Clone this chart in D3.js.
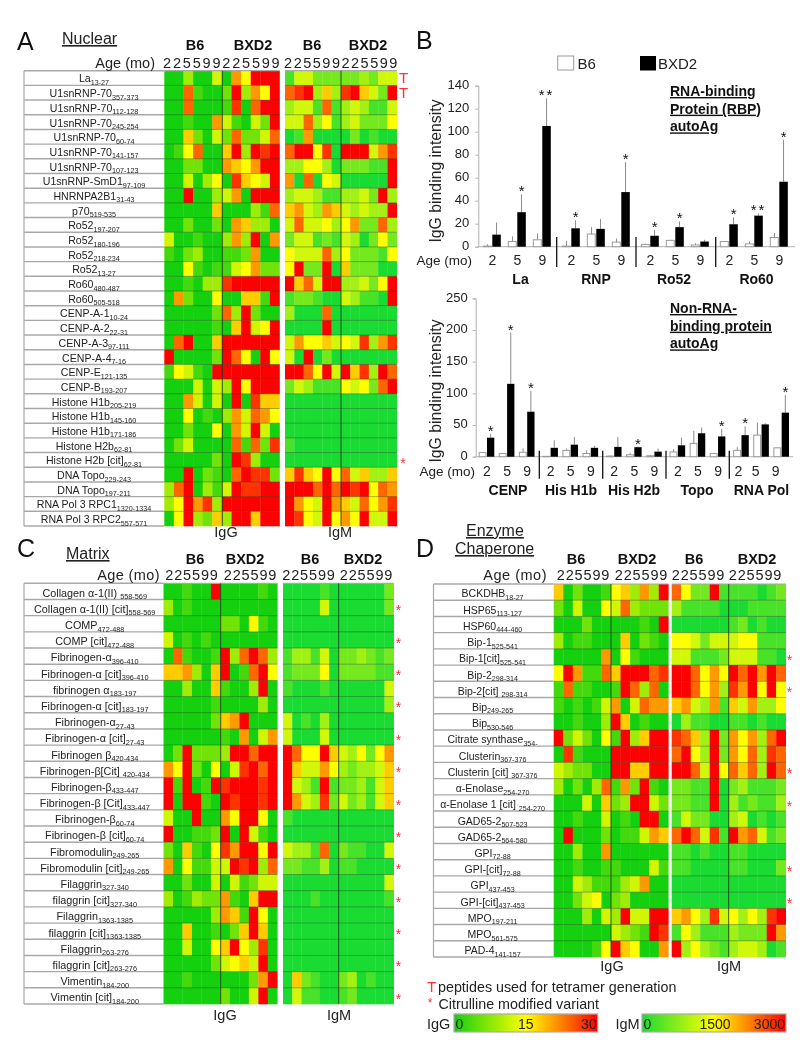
<!DOCTYPE html>
<html><head><meta charset="utf-8">
<script src="https://cdn.jsdelivr.net/npm/d3@7/dist/d3.min.js"></script>
<style>
html,body{margin:0;padding:0;background:#fff}
svg{display:block;font-family:"Liberation Sans",Arial,sans-serif;filter:blur(0.45px)}
</style></head><body><svg id="c" width="811" height="1050"></svg>
<script>
// ---------- Data: heat levels are 0..10 (IgG level x3, IgM level x300) ----------
const ages = [2,2,5,5,9,9,2,2,5,5,9,9];
const nuclearLabels = ["La|13-27","U1snRNP-70|357-373","U1snRNP-70|112-128","U1snRNP-70|245-254","U1snRNP-70|60-74","U1snRNP-70|141-157","U1snRNP-70|107-123","U1snRNP-SmD1|97-109","HNRNPA2B1|31-43","p70|519-535","Ro52|197-207","Ro52|180-196","Ro52|218-234","Ro52|13-27","Ro60|480-487","Ro60|505-518","CENP-A-1|10-24","CENP-A-2|22-31","CENP-A-3|97-111","CENP-A-4|7-16","CENP-E|121-135","CENP-B|193-207","Histone H1b|205-219","Histone H1b|145-160","Histone H1b|171-186","Histone H2b|62-81","Histone H2b [cit]|62-81","DNA Topo|229-243","DNA Topo|197-211","RNA Pol 3 RPC1|1320-1334","RNA Pol 3 RPC2|557-571"];
const nuclearIgG = [
[0,0,3,0,0,4,0,7,5,10,10,10],[0,0,8,1,0,0,2,10,3,7,5,10],[0,0,8,0,0,0,1,9,0,8,10,10],[0,0,1,0,0,7,4,1,0,4,2,10],
[0,0,6,2,0,4,2,8,2,2,4,8],[0,1,5,8,0,0,6,10,3,10,9,10],[0,0,2,2,0,0,7,6,5,7,10,10],[0,0,4,0,3,5,0,9,6,5,4,10],
[0,0,10,0,0,3,4,7,0,10,10,10],[0,0,0,0,0,6,0,0,0,3,1,8],[0,0,2,0,0,2,0,7,6,3,3,0],[4,0,0,1,0,0,3,7,3,10,0,7],
[1,0,2,3,0,0,1,1,2,7,0,0],[0,0,5,1,0,1,1,4,5,7,2,2],[0,0,1,0,3,3,9,10,10,10,10,10],[0,7,2,0,0,5,0,0,6,6,1,10],
[0,0,0,0,0,2,8,3,10,2,0,0],[0,0,0,0,0,1,0,6,10,4,5,10],[0,8,10,0,0,6,10,10,10,10,10,10],[10,0,0,0,0,2,10,8,5,0,10,5],
[1,5,4,1,0,10,10,10,10,10,10,10],[0,0,0,4,0,4,3,10,5,10,10,10],[0,0,7,4,0,4,0,10,0,9,6,6],[0,0,5,0,1,0,3,7,4,8,7,5],
[0,0,2,0,0,5,0,7,4,10,4,0],[0,2,4,0,0,0,0,8,1,8,2,9],[0,0,0,0,0,2,0,10,9,3,0,0],[0,0,10,0,2,1,0,8,10,9,9,2],
[3,8,10,0,3,1,4,10,9,9,10,10],[3,5,10,7,9,3,10,10,10,10,10,10],[0,5,10,3,2,6,3,10,10,6,10,10]];
const nuclearIgM = [
[1,4,4,2,2,2,2,2,3,2,4,4],[8,9,10,3,6,3,9,10,6,4,2,10],[3,4,4,1,8,1,3,4,3,1,1,4],[4,4,8,3,5,1,3,4,2,2,2,5],
[0,1,7,0,0,0,0,2,0,1,0,0],[8,10,10,5,9,0,10,10,10,4,7,9],[3,3,5,5,3,0,2,2,2,1,1,10],[7,0,8,0,5,4,0,0,0,0,0,10],
[3,4,4,3,1,1,3,3,4,2,10,3],[6,7,4,3,7,6,4,3,4,3,3,10],[4,8,4,4,5,3,5,7,2,2,8,3],[2,4,4,1,2,1,4,3,0,2,5,2],
[5,4,4,4,8,3,5,2,2,2,1,5],[5,10,2,2,10,0,6,2,2,2,0,0],[10,6,8,4,10,10,3,3,4,2,5,10],[1,2,2,1,0,0,4,3,1,1,0,10],
[3,0,0,0,8,0,0,0,0,0,0,0],[0,0,0,0,10,0,0,0,0,0,0,0],[4,7,5,5,6,4,5,4,9,3,7,9],[4,0,10,0,2,0,0,0,0,0,0,0],
[10,10,8,5,10,4,10,6,9,3,10,8],[2,4,3,1,1,1,5,4,5,2,8,10],[0,0,0,0,0,0,0,0,0,0,0,0],[0,0,0,0,0,0,0,0,0,0,0,0],
[0,0,0,0,0,0,0,0,0,0,0,0],[1,0,0,0,0,0,0,0,0,0,0,0],[0,0,0,0,0,0,0,0,0,0,0,0],[6,9,6,5,10,5,8,4,6,3,3,6],
[10,10,10,8,10,8,10,9,10,5,8,7],[10,7,5,4,10,7,6,4,8,5,7,9],[10,9,5,4,10,5,7,5,10,4,4,10]];

const matrixLabels = ["Collagen α-1(II) |558-569","Collagen α-1(II) [cit]|558-569","COMP|472-488","COMP [cit]|472-488","Fibrinogen-α|396-410","Fibrinogen-α [cit]|396-410","fibrinogen α|183-197","Fibrinogen-α [cit]|183-197","Fibrinogen-α|27-43","Fibrinogen-α [cit]|27-43","Fibrinogen β|420-434","Fibrinogen-β[Cit] |420-434","Fibrinogen-β|433-447","Fibrinogen-β [Cit]|433-447","Fibrinogen-β|60-74","Fibrinogen-β [cit]|60-74","Fibromodulin|249-265","Fibromodulin [cit]|249-265","Filaggrin|327-340","filaggrin [cit]|327-340","Filaggrin|1363-1385","filaggrin [cit]|1363-1385","Filaggrin|263-276","filaggrin [cit]|263-276","Vimentin|184-200","Vimentin [cit]|184-200"];
const matrixIgG = [
[0,0,1,0,0,10,0,0,0,0,1,0],[3,0,1,0,0,0,0,0,0,0,0,0],[0,0,0,0,0,0,2,2,0,5,1,0],[4,0,1,0,1,0,0,0,0,0,0,0],
[0,8,1,0,0,1,10,3,8,10,8,3],[6,6,7,3,0,6,10,0,1,8,10,5],[0,0,3,0,0,6,1,0,0,3,10,0],[0,0,0,0,0,1,0,0,0,0,3,0],
[0,0,0,0,0,2,6,7,10,0,0,0],[0,0,0,0,0,0,1,0,7,0,4,7],[0,2,10,2,2,2,3,10,10,8,10,10],[7,5,10,2,0,5,0,4,9,10,8,10],
[10,1,10,0,1,10,9,10,10,10,9,10],[10,0,10,10,1,0,10,9,10,10,9,10],[4,0,0,10,0,0,7,5,10,10,5,0],[10,0,0,1,1,2,10,0,10,4,1,0],
[2,0,6,1,0,5,9,7,10,10,5,10],[7,0,5,1,1,4,4,10,9,10,3,8],[0,0,2,0,0,4,0,4,1,2,4,4],[3,0,1,3,2,2,7,1,0,6,10,10],
[0,0,0,0,0,3,7,6,1,10,5,0],[0,0,6,0,0,1,0,2,6,10,6,0],[0,0,4,0,0,5,6,10,5,3,9,0],[0,0,0,0,0,2,4,5,6,4,10,0],
[0,0,1,0,0,0,0,0,0,2,7,10],[0,0,0,0,0,0,2,0,0,4,10,0]];
const matrixIgM = [
[0,0,0,0,1,0,0,0,0,0,0,2],[0,0,0,0,4,0,0,0,0,0,0,2],[0,0,0,0,0,0,0,0,0,0,0,0],[0,0,0,0,0,0,0,0,0,0,0,0],
[1,3,3,1,4,0,2,2,3,2,1,2],[1,2,2,2,5,0,2,2,2,2,1,1],[1,0,0,0,1,0,0,0,0,0,0,4],[0,0,0,0,0,0,0,0,0,0,0,3],
[4,0,1,0,3,0,0,0,0,0,0,0],[4,0,0,0,4,0,0,0,0,0,0,0],[10,8,5,5,10,6,4,3,5,2,5,7],[10,6,4,4,7,5,3,2,3,3,4,6],
[10,4,3,1,10,1,2,2,3,1,4,6],[10,7,4,3,9,2,4,2,3,1,4,6],[1,0,0,0,0,0,0,0,0,0,0,0],[0,0,0,0,0,0,0,0,0,0,0,0],
[4,3,3,1,8,0,2,1,1,0,0,4],[2,2,1,1,3,0,1,1,0,0,0,0],[0,0,0,0,0,0,0,0,0,0,0,4],[0,0,0,1,0,0,0,0,0,0,0,1],
[0,0,0,0,0,0,0,0,0,0,0,0],[0,0,0,0,0,0,0,0,0,0,0,0],[0,0,0,0,0,0,0,0,0,0,0,0],[0,0,0,0,0,0,0,0,0,0,0,0],
[0,6,2,1,0,0,2,3,0,1,0,0],[0,4,1,1,0,0,1,2,0,0,0,0]];

const enzymeLabels = ["BCKDHB|18-27","HSP65|113-127","HSP60|444-460","Bip-1|525-541","Bip-1[cit]|525-541","Bip-2|298-314","Bip-2[cit] |298-314","Bip|249-265","Bip|530-546","Citrate synthase|354-","Clusterin|367-376","Clusterin [cit] |367-376","α-Enolase|254-270","α-Enolase 1 [cit] |254-270","GAD65-2|507-523","GAD65-2|564-580","GPI|72-88","GPI-[cit]|72-88","GPI|437-453","GPI-[cit]|437-453","MPO|197-211","MPO|561-575","PAD-4|141-157"];
const enzymeIgG = [
[6,0,2,0,0,1,5,6,3,7,3,10],[2,0,4,0,0,5,4,8,3,2,2,2],[0,0,0,2,0,0,0,0,0,1,0,10],[3,0,1,1,0,0,0,6,0,2,1,0],
[0,0,0,0,0,7,0,5,1,0,0,0],[5,10,7,1,1,8,6,10,10,10,8,9],[1,8,1,1,0,0,1,10,8,3,8,0],[1,0,1,0,1,4,7,0,4,8,7,7],
[0,0,1,0,0,3,10,6,0,1,0,0],[10,2,4,2,0,5,1,10,3,6,10,10],[0,9,1,0,0,0,10,10,10,10,10,10],[4,3,2,2,0,0,10,10,6,6,10,10],
[3,0,2,0,3,8,1,7,2,10,1,0],[0,0,0,4,0,6,2,3,10,10,4,2],[0,0,1,0,0,4,0,1,0,10,10,0],[0,10,0,0,0,2,0,1,1,4,7,6],
[0,0,3,0,0,7,0,0,0,0,0,0],[0,0,1,0,0,1,1,0,0,0,4,1],[0,0,4,3,1,1,1,3,4,7,0,0],[0,0,2,4,5,0,2,3,0,0,0,0],
[0,0,0,3,0,4,3,10,4,4,10,10],[0,0,0,0,0,0,4,3,2,1,10,9],[0,0,0,0,1,5,10,6,5,0,0,7]];
const enzymeIgM = [
[8,5,2,2,10,1,1,1,1,0,1,2],[3,1,1,1,1,0,0,0,1,1,1,1],[0,0,0,0,0,0,1,2,0,1,0,0],[5,5,4,2,4,4,4,5,5,1,1,1],
[4,4,1,1,1,2,4,4,4,1,1,0],[10,10,8,5,7,5,10,8,10,7,10,8],[10,10,8,5,7,3,9,7,10,5,10,5],[6,7,4,3,7,1,6,4,7,3,3,5],
[0,3,1,1,0,0,1,1,0,1,0,0],[9,8,6,3,10,2,7,5,7,3,8,10],[8,10,5,3,10,2,7,5,8,3,9,8],[10,10,8,4,10,5,8,6,8,3,10,8],
[2,2,1,1,10,0,2,3,1,1,1,2],[2,2,1,1,10,0,3,1,2,1,1,3],[1,4,2,2,0,0,3,4,0,1,0,1],[8,10,8,4,9,1,10,7,8,4,1,2],
[1,1,0,1,0,0,1,1,0,0,0,0],[1,1,0,0,0,0,1,1,0,0,0,2],[0,0,0,0,0,0,0,0,0,0,0,0],[0,0,0,0,0,0,0,0,0,0,0,0],
[6,7,5,3,9,4,5,3,5,3,9,10],[1,5,3,1,1,1,3,2,2,2,10,7],[10,3,5,3,2,1,3,4,4,3,0,1]];

// Bar charts
const ageTicks = [2,5,9];
const rbpGroups = ["La","RNP","Ro52","Ro60"];
const rbpB6 = [0.5,4.5,6, 0.5,11,4, 2,5.5,1.5, 4.5,2.5,8];
const rbpB6Top = [2,9,11.5, 5,17,7, 2.5,6,3, 5,4.5,12];
const rbpBXD2 = [10.5,30,105, 16,15.5,47.5, 9.5,17,4.5, 19.5,27,56.5];
const rbpBXD2Top = [21,45.5,129, 23,24,73.5, 14.5,22,6, 25.5,29,93];
const rbpSig = ["","*","**","*","","*","*","*","","*","**","*"];
const nonGroups = ["CENP","His H1b","His H2b","Topo","RNA Pol"];
const nonB6 = [6.5,5,7, 0.5,10,5, 1,3,1.5, 7.5,21,5, 10,34,14];
const nonB6Top = [7,6,13, 1,13,10, 2,6,3, 12,41,6, 15,54,15];
const nonBXD2 = [30,115,71, 14,19,14, 15.5,15,8, 18,37,32, 34,51,69.5];
const nonBXD2Top = [36,196,104, 26,31,17, 31,16,13, 30,46,44, 48,53,97];
const nonSig = ["*","*","*","","","","","*","","","","*","*","","*"];
const igGLegend = ["0","15","30"];
const igMLegend = ["0","1500","3000"];

// ---------- Helpers ----------
const svg = d3.select("#c");
const TXT = "#222";
const colIgG = d3.scaleLinear().domain([0,5,10]).range(["rgb(20,208,15)","#ffff00","#ff0000"]);
const colIgM = d3.scaleLinear().domain([0,5,10]).range(["rgb(26,219,50)","#ffff00","#ff0000"]);

function text(x,y,s,o={}){
  const t = svg.append("text").attr("x",x).attr("y",y).text(s)
    .attr("font-size",o.size||14).attr("fill",o.fill||TXT);
  if(o.anchor) t.attr("text-anchor",o.anchor);
  if(o.weight) t.attr("font-weight",o.weight);
  if(o.spacing) t.attr("letter-spacing",o.spacing);
  if(o.under) t.attr("text-decoration","underline");
  if(o.transform) t.attr("transform",o.transform);
  return t;
}

function heatPanel(p){
  const y = d3.scaleBand().domain(d3.range(p.labels.length)).range([p.top,p.bottom]);
  const g = svg.append("g");
  // label box
  g.selectAll("line.row").data(d3.range(p.labels.length+1)).join("line")
    .attr("x1",p.boxL).attr("x2",p.boxR)
    .attr("y1",i=>i<p.labels.length?y(i):p.bottom).attr("y2",i=>i<p.labels.length?y(i):p.bottom)
    .attr("stroke","#a8a8a8").attr("stroke-width",1.4);
  g.append("line").attr("x1",p.boxL).attr("x2",p.boxL).attr("y1",p.top).attr("y2",p.bottom)
    .attr("stroke","#a8a8a8").attr("stroke-width",1.2);
  const lab = g.selectAll("text.lab").data(p.labels).join("text")
    .attr("x",(p.boxL+p.boxR)/2+p.labDx).attr("y",(d,i)=>y(i)+y.bandwidth()*p.labY)
    .attr("text-anchor","middle").attr("font-size",p.labSize).attr("fill",TXT);
  lab.append("tspan").text(d=>d.split("|")[0]);
  lab.append("tspan").text(d=>d.split("|")[1]).attr("font-size",p.labSize*0.68).attr("dy",2.5);
  // cells
  [[p.igG,p.xG,colIgG,p.divG],[p.igM,p.xM,colIgM,p.divM]].forEach(([vals,ext,col,div])=>{
    const x = d3.scaleBand().domain(d3.range(12)).range(ext);
    const hg = svg.append("g");
    hg.selectAll("g").data(vals).join("g").attr("transform",(d,i)=>`translate(0,${y(i)})`)
      .selectAll("rect").data(d=>d).join("rect")
      .attr("x",(d,j)=>x(j)).attr("width",x.bandwidth()+0.3).attr("height",y.bandwidth()+0.3)
      .attr("fill",d=>col(d));
    hg.selectAll("line").data(d3.range(1,p.labels.length)).join("line")
      .attr("x1",ext[0]).attr("x2",ext[1]).attr("y1",i=>y(i)).attr("y2",i=>y(i))
      .attr("stroke","#1c3a1c").attr("stroke-opacity",0.38).attr("stroke-width",1);
    hg.append("line").attr("x1",ext[0]).attr("x2",ext[1]).attr("y1",p.top).attr("y2",p.top)
      .attr("stroke","#a8a8a8").attr("stroke-width",1.2);
    hg.append("line").attr("x1",div).attr("x2",div).attr("y1",p.top).attr("y2",p.bottom)
      .attr("stroke","#1c3a1c").attr("stroke-opacity",0.85).attr("stroke-width",1);
  });
  // citrulline stars
  svg.append("g").selectAll("text").data(p.labels.map((d,i)=>[d,i]).filter(d=>/\[cit\]/i.test(d[0]))).join("text")
    .attr("x",p.starX).attr("y",d=>y(d[1])+y.bandwidth()*p.starY).attr("text-anchor","middle")
    .attr("font-size",14).attr("fill","#f33").text("*");
  // header
  p.heads.forEach(h=>text(h[0],p.headY,h[1],{size:14.5,weight:"bold",anchor:"middle",fill:"#111"}));
  text(p.ageX,p.ageY,"Age (mo)",{size:14.5,anchor:"end",spacing:p.ageSp||0});
  p.ageBlocks.forEach(b=>{
    const s = b.ages.join("");
    text(b.x,p.ageY,s,{size:14.5,anchor:"middle",spacing:b.sp});
  });
  text(p.footG,p.footY,"IgG",{size:14.5,anchor:"middle"});
  text(p.footM,p.footY,"IgM",{size:14.5,anchor:"middle"});
}

// ---------- Panel A ----------
heatPanel({labels:nuclearLabels,igG:nuclearIgG,igM:nuclearIgM,top:70.7,bottom:526,boxL:24,boxR:164,labDx:0,labY:0.8,labSize:10.6,
  xG:[164.3,279.5],xM:[285,396.8],divG:222.3,divM:341,starX:403,starY:1.02,
  heads:[[195,"B6"],[253,"BXD2"],[312,"B6"],[368,"BXD2"]],headY:50,ageX:155,ageY:68,
  ageBlocks:[{x:222.3,ages,sp:1.8},{x:341.5,ages,sp:1.5}],footG:226,footM:340,footY:537});
// ---------- Panel C ----------
heatPanel({labels:matrixLabels,igG:matrixIgG,igM:matrixIgM,top:583.3,bottom:1004,boxL:24,boxR:163.5,labDx:1,labY:0.83,labSize:10.8,ageSp:0.4,
  xG:[163.5,277.3],xM:[283,393.7],divG:220.7,divM:338.7,starX:398.5,starY:0.98,
  heads:[[195,"B6"],[245,"BXD2"],[310,"B6"],[363,"BXD2"]],headY:564,ageX:160,ageY:580,
  ageBlocks:[{x:192,ages:ages.slice(0,6),sp:0.85},{x:250.5,ages:ages.slice(0,6),sp:0.85},{x:309,ages:ages.slice(0,6),sp:0.85},{x:366.5,ages:ages.slice(0,6),sp:0.85}],
  footG:225,footM:339,footY:1020});
// ---------- Panel D ----------
heatPanel({labels:enzymeLabels,igG:enzymeIgG,igM:enzymeIgM,top:584,bottom:957,boxL:433.5,boxR:553.7,labDx:-1,labY:0.83,labSize:10.5,ageSp:0.5,
  xG:[553.7,668.3],xM:[671.7,785.7],divG:611,divM:728.7,starX:789.5,starY:0.98,
  heads:[[576,"B6"],[637,"BXD2"],[694,"B6"],[757,"BXD2"]],headY:564,ageX:547,ageY:580,
  ageBlocks:[{x:583.5,ages:ages.slice(0,6),sp:0.85},{x:641.5,ages:ages.slice(0,6),sp:0.85},{x:698.5,ages:ages.slice(0,6),sp:0.85},{x:755.5,ages:ages.slice(0,6),sp:0.85}],
  footG:612,footM:729,footY:971});

// Panel letters and titles
[["A",17,50],["B",416,49],["C",17,557],["D",416,557]].forEach(d=>text(d[1],d[2],d[0],{size:25,fill:"#111"}));
text(62,44,"Nuclear",{size:16,under:true});
text(66,559,"Matrix",{size:16,under:true});
text(466,536,"Enzyme",{size:16,under:true});
text(455,554,"Chaperone",{size:16,under:true});
text(399,83,"T",{size:15,fill:"#f33"});
text(399,98,"T",{size:15,fill:"#f33"});

// ---------- Panel B ----------
function barChart(p){
  const y = d3.scaleLinear().domain(p.domain).range([p.y0,p.y1]);
  const x = d3.scaleLinear().domain([0,1]).range([p.x0,p.x0+p.pitch]);
  const slot = i => x(i + Math.floor(i/3)*p.gap);
  const g = svg.append("g");
  const ax = g.append("g").attr("transform",`translate(${p.axisX},0)`)
    .call(d3.axisLeft(y).tickValues(p.ticks).tickSize(3).tickPadding(p.tickPad));
  ax.selectAll("path,line").attr("stroke","#b0b0b0");
  ax.selectAll("text").attr("font-size",13).attr("dy","0.22em").attr("font-family","'Liberation Sans',Arial,sans-serif").attr("fill",TXT);
  g.append("line").attr("x1",p.axisX).attr("x2",p.axisEnd).attr("y1",p.y0).attr("y2",p.y0).attr("stroke","#b0b0b0");
  // whiskers
  const wg = g.append("g").attr("stroke","#8a8a8a").attr("stroke-width",1);
  wg.selectAll("line.a").data(p.b6).join("line").attr("class","a")
    .attr("x1",(d,i)=>slot(i)-p.bw/2-0.5).attr("x2",(d,i)=>slot(i)-p.bw/2-0.5)
    .attr("y1",d=>y(d)).attr("y2",(d,i)=>y(p.b6Top[i]));
  wg.selectAll("line.b").data(p.bxd).join("line").attr("class","b")
    .attr("x1",(d,i)=>slot(i)+p.bw/2).attr("x2",(d,i)=>slot(i)+p.bw/2)
    .attr("y1",d=>y(d)).attr("y2",(d,i)=>y(p.bxdTop[i]));
  g.selectAll("rect.w").data(p.b6).join("rect").attr("class","w")
    .attr("x",(d,i)=>slot(i)-p.bw-0.5).attr("width",p.bw-0.5)
    .attr("y",d=>y(d)).attr("height",d=>y(0)-y(d))
    .attr("fill","#fff").attr("stroke","#9a9a9a").attr("stroke-width",1);
  g.selectAll("rect.k").data(p.bxd).join("rect").attr("class","k")
    .attr("x",(d,i)=>slot(i)).attr("width",p.bw)
    .attr("y",d=>y(d)).attr("height",d=>y(0)-y(d)).attr("fill","#000");
  // significance
  g.selectAll("text.s").data(p.sig).join("text").attr("class","s")
    .attr("x",(d,i)=>slot(i)+p.bw/2).attr("y",(d,i)=>y(p.bxdTop[i])+2)
    .attr("text-anchor","middle").attr("font-size",15).attr("letter-spacing",d=>d.length>1?2:0)
    .attr("fill","#111").text(d=>d);
  // x labels
  p.b6.forEach((d,i)=>text(slot(i)+(p.labShift[i]||0),p.ageY,ageTicks[i%3],{size:14,anchor:"middle"}));
  text(p.ageEnd,p.ageY,"Age (mo)",{size:13.5,anchor:"end"});
  p.groups.forEach((s,i)=>text(p.groupX[i],p.groupY,s,{size:14,weight:"bold",anchor:"middle",fill:"#111"}));
  p.divs.forEach(v=>g.append("line").attr("x1",v).attr("x2",v).attr("y1",p.divY[0]).attr("y2",p.divY[1]).attr("stroke","#111").attr("stroke-width",1.3));
  text(p.titleCx,p.titleCy,"IgG binding intensity",{size:15.8,anchor:"middle",transform:`rotate(-90 ${p.titleCx} ${p.titleCy})`});
  p.head.forEach((s,i)=>text(670,p.headY+i*17.7,s,{size:14,weight:"bold",under:true,fill:"#111"}));
}
barChart({domain:[0,140],ticks:d3.range(0,141,20),y0:246.7,y1:85.7,axisX:478.3,axisEnd:795,tickPad:6,
  x0:492.3,pitch:25,gap:0.16,bw:8.5,b6:rbpB6,b6Top:rbpB6Top,bxd:rbpBXD2,bxdTop:rbpBXD2Top,sig:rbpSig,labShift:[],
  ageY:264.5,ageEnd:472,groups:rbpGroups,groupX:[520.5,596,674,756.5],groupY:284,
  divs:[556.7,636,715.7],divY:[237,267],titleCx:441,titleCy:171,head:["RNA-binding","Protein (RBP)","autoAg"],headY:96});
barChart({domain:[0,250],ticks:d3.range(0,251,50),y0:456.7,y1:298.3,axisX:475.7,axisEnd:793,tickPad:5,
  x0:487,pitch:20.1,gap:0.165,bw:7.3,b6:nonB6,b6Top:nonB6Top,bxd:nonBXD2,bxdTop:nonBXD2Top,sig:nonSig,
  labShift:[0,0,0,0,0,0,0,0,0,0,0,0,-3,-6,-6],
  ageY:476,ageEnd:475,groups:nonGroups,groupX:[508,571,634,697,761.5],groupY:495,
  divs:[539.3,602.7,666,729.3],divY:[450.7,478.7],titleCx:441,titleCy:391,head:["Non-RNA-","binding protein","autoAg"],headY:313});
// legend B
svg.append("rect").attr("x",557.7).attr("y",56).attr("width",16).attr("height",14).attr("fill","#fff").attr("stroke","#999");
text(577.5,68.5,"B6",{size:15});
svg.append("rect").attr("x",640).attr("y",56).attr("width",16).attr("height",14.5).attr("fill","#000");
text(658,68.5,"BXD2",{size:15});

// ---------- Colour legends ----------
text(427,992,"T",{size:15,fill:"#f33"});
text(438,992,"peptides used for tetramer generation",{size:14.3});
text(430,1007,"*",{size:12,fill:"#f33",anchor:"middle"});
text(438.5,1009,"Citrulline modified variant",{size:14.3});
const defs = svg.append("defs");
[["gG",colIgG,454,597.7,"IgG",427,igGLegend],["gM",colIgM,642,786,"IgM",615.5,igMLegend]].forEach(([id,col,x0,x1,name,nx,labs])=>{
  const grad = defs.append("linearGradient").attr("id",id);
  d3.range(0,11).forEach(l=>grad.append("stop").attr("offset",l*10+"%").attr("stop-color",col(l)));
  svg.append("rect").attr("x",x0).attr("y",1014).attr("width",x1-x0).attr("height",18)
    .attr("fill",`url(#${id})`).attr("stroke","#aaa").attr("stroke-width",1.2);
  text(nx,1029,name,{size:14.5});
  text(x0+1.5,1029,labs[0],{size:14});
  text((x0+x1)/2+(id==="gM"?1:0),1029,labs[1],{size:14,anchor:"middle"});
  text(x1-1,1029,labs[2],{size:14,anchor:"end"});
});
</script></body></html>
